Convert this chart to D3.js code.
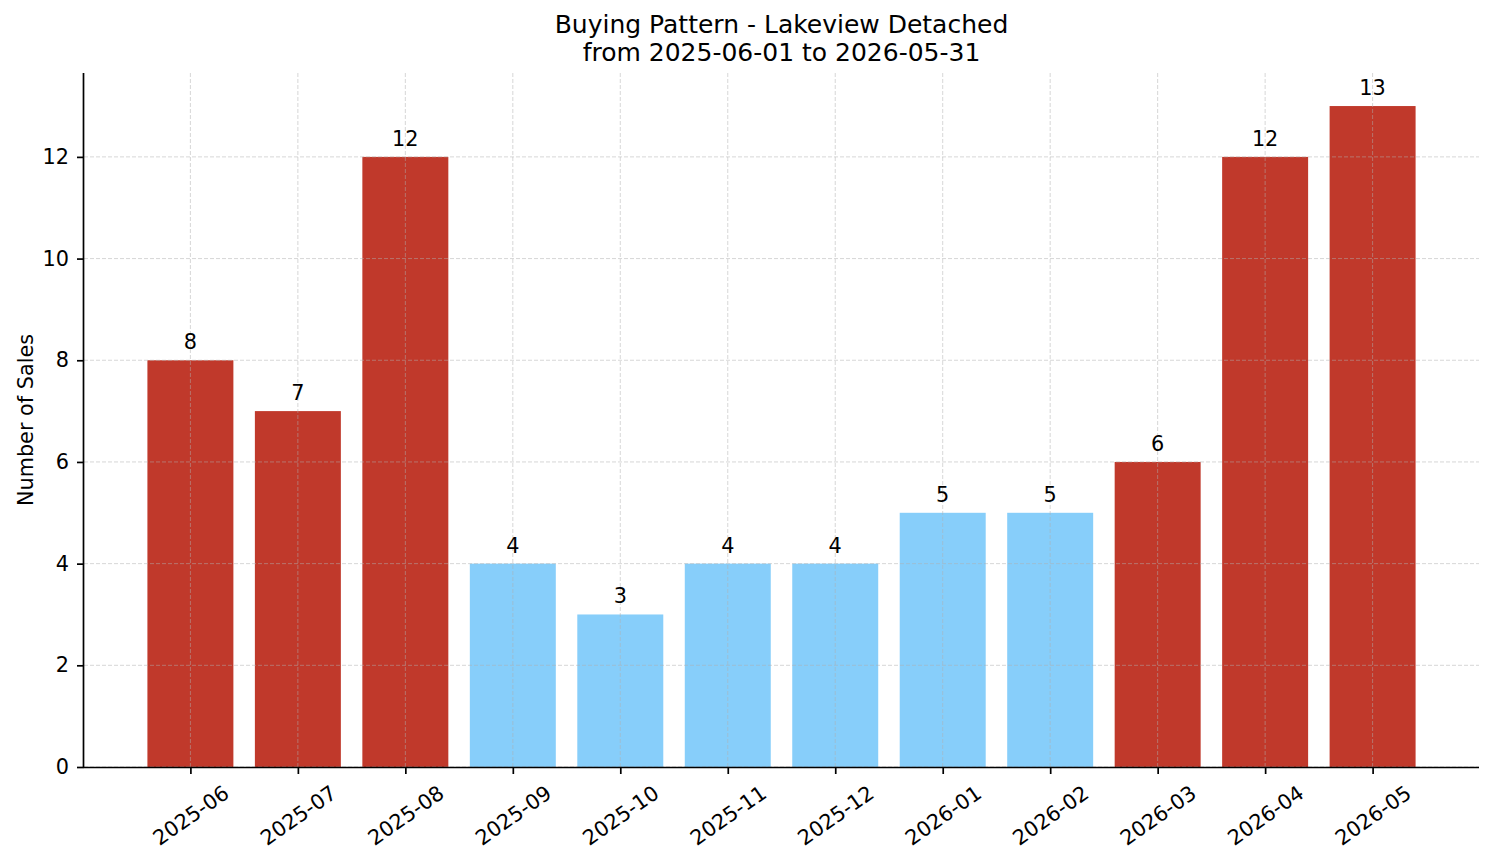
<!DOCTYPE html>
<html>
<head>
<meta charset="utf-8">
<script src="https://cdn.jsdelivr.net/npm/d3@7"></script>
<style>
  body { margin: 0; background: #fff; }
  svg text { font-family: "DejaVu Sans", sans-serif; fill: #000; }
</style>
</head>
<body>
<div id="chart-area"></div>
<script>
// Data
var months = ["2025-06", "2025-07", "2025-08", "2025-09", "2025-10", "2025-11",
              "2025-12", "2026-01", "2026-02", "2026-03", "2026-04", "2026-05"];
var sales = [8, 7, 12, 4, 3, 4, 4, 5, 5, 6, 12, 13];
var isPeak = [true, true, true, false, false, false, false, false, false, true, true, true];
var yTicks = [0, 2, 4, 6, 8, 10, 12];

var titleLines = ["Buying Pattern - Lakeview Detached", "from 2025-06-01 to 2026-05-31"];

var W = 1494, H = 863;
var margin = {top: 73, right: 15, bottom: 96, left: 84};
var width = W - margin.left - margin.right,
    height = H - margin.top - margin.bottom;

var svg = d3.select("#chart-area").append("svg")
    .attr("width", W)
    .attr("height", H)
    .append("g")
    .attr("transform", `translate(${margin.left}, ${margin.top})`);

// Scales (matplotlib-like: bar width 0.8, 5% margins)
var x = d3.scaleLinear()
    .domain([-0.99, months.length - 1 + 0.99])
    .range([0, width]);

var y = d3.scaleLinear()
    .domain([0, 13 * 1.05])
    .range([height, 0]);

var barW = x(0.8) - x(0);

// Bars
svg.selectAll(".bar")
    .data(sales)
    .join("rect")
    .attr("class", "bar")
    .attr("x", (d, i) => x(i) - barW / 2)
    .attr("y", d => y(d))
    .attr("width", barW)
    .attr("height", d => height - y(d))
    .attr("fill", (d, i) => isPeak[i] ? "#c0392b" : "#87cefa");

// Grid on top of bars
var grid = svg.append("g").attr("class", "grid");
grid.selectAll(".hgrid")
    .data(yTicks)
    .join("line")
    .attr("x1", 0).attr("x2", width)
    .attr("y1", d => y(d)).attr("y2", d => y(d))
    .attr("stroke", "#b0b0b0").attr("stroke-opacity", 0.5)
    .attr("stroke-width", 1).attr("stroke-dasharray", "4,2");
grid.selectAll(".vgrid")
    .data(months)
    .join("line")
    .attr("x1", (d, i) => x(i)).attr("x2", (d, i) => x(i))
    .attr("y1", 0).attr("y2", height)
    .attr("stroke", "#b0b0b0").attr("stroke-opacity", 0.5)
    .attr("stroke-width", 1).attr("stroke-dasharray", "4,2");

// Bar value labels
svg.selectAll(".val")
    .data(sales)
    .join("text")
    .attr("class", "val")
    .attr("x", (d, i) => x(i))
    .attr("y", d => y(d) - 11)
    .attr("text-anchor", "middle")
    .style("font-size", "20.8px")
    .text(d => d);

// Y axis
var yAxis = d3.axisLeft(y).tickValues(yTicks).tickSize(7).tickPadding(8);
var gy = svg.append("g").attr("class", "y-axis").call(yAxis);
gy.select(".domain").attr("stroke", "#000").attr("stroke-width", 1.7);
gy.selectAll(".tick line").attr("stroke", "#000").attr("stroke-width", 1.7);
gy.selectAll(".tick text").style("font-size", "20.8px").attr("fill", "#000");
gy.select(".domain").attr("d", `M-0.5,${height}V0`);

// X axis
var xAxis = d3.axisBottom(x).tickValues(d3.range(months.length))
    .tickSize(7).tickPadding(7).tickFormat(i => months[i]);
var gx = svg.append("g").attr("class", "x-axis")
    .attr("transform", `translate(0, ${height})`)
    .call(xAxis);
gx.select(".domain").attr("stroke", "#000").attr("stroke-width", 1.7)
    .attr("d", `M0,0.5H${width}`);
gx.selectAll(".tick line").attr("stroke", "#000").attr("stroke-width", 1.7);

// rotated labels, bbox centered under the tick (ha='center', rotation=35)
var ang = 35 * Math.PI / 180;
gx.selectAll(".tick text")
    .style("font-size", "20.8px")
    .attr("fill", "#000")
    .each(function() {
        var t = d3.select(this);
        t.attr("y", 0).attr("dy", "0.35em").attr("text-anchor", "middle");
        var L = this.getComputedTextLength();
        var h = 20.8 * 1.1;
        var boxH = L * Math.sin(ang) + h * Math.cos(ang);
        var cy = 14 + boxH / 2;
        t.attr("transform", `translate(0, ${cy}) rotate(-35)`);
    });

// Y label
svg.append("text")
    .attr("transform", `translate(${-51}, ${height / 2}) rotate(-90)`)
    .attr("text-anchor", "middle")
    .style("font-size", "20.8px")
    .text("Number of Sales");

// Title
svg.selectAll(".title")
    .data(titleLines)
    .join("text")
    .attr("class", "title")
    .attr("x", width / 2)
    .attr("y", (d, i) => -40 + i * 28)
    .attr("text-anchor", "middle")
    .style("font-size", "25px")
    .text(d => d);
</script>
</body>
</html>
